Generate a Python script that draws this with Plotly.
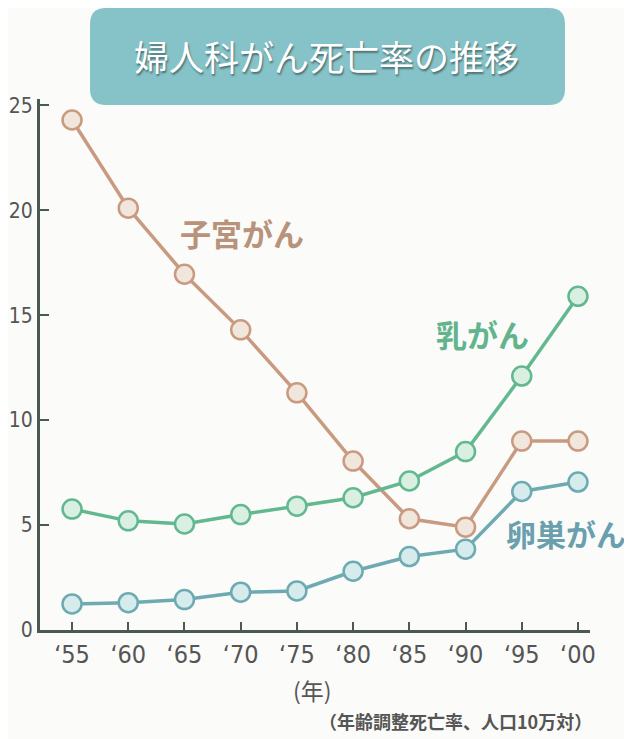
import plotly.graph_objects as go

years = [1955, 1960, 1965, 1970, 1975, 1980, 1985, 1990, 1995, 2000]
tick_labels = ["‘55", "‘60", "‘65", "‘70", "‘75", "‘80", "‘85", "‘90", "‘95", "‘00"]
uterine = [24.3, 20.1, 16.95, 14.3, 11.3, 8.05, 5.3, 4.9, 9.0, 9.0]
breast = [5.76, 5.2, 5.05, 5.5, 5.9, 6.3, 7.1, 8.5, 12.1, 15.9]
ovarian = [1.24, 1.3, 1.45, 1.8, 1.86, 2.8, 3.5, 3.85, 6.6, 7.05]

series = [
    ("子宮がん", uterine, "#c99a80", "#f1e6dc"),
    ("乳がん", breast, "#62b88f", "#d8efe2"),
    ("卵巣がん", ovarian, "#6eaab2", "#d6ebec"),
]

fig = go.Figure()
for name, vals, col, fill in series:
    fig.add_trace(go.Scatter(
        x=years, y=vals, mode="lines+markers", name=name,
        line=dict(color=col, width=3.5),
        marker=dict(size=19, color=fill, line=dict(color=col, width=2.5)),
        showlegend=False, hoverinfo="skip",
    ))

W, H = 632, 739
OFF = 8  # page body margin
# plot area in screen pixels
SL, SR, ST, SB = 40, 590, 99, 630
L, T = SL - OFF, ST - OFF
R = W - (SR - OFF)
B = H - (SB - OFF)
pw, ph = SR - SL, SB - ST

def px(xs):
    return (xs - SL) / pw

def py(ys):
    return (SB - ys) / ph

# rounded title box
x0, x1, y0, y1 = 90, 565, 8, 105
r = 16
p = (f"M {px(x0+r)},{py(y0)} L {px(x1-r)},{py(y0)} Q {px(x1)},{py(y0)} {px(x1)},{py(y0+r)} "
     f"L {px(x1)},{py(y1-r)} Q {px(x1)},{py(y1)} {px(x1-r)},{py(y1)} "
     f"L {px(x0+r)},{py(y1)} Q {px(x0)},{py(y1)} {px(x0)},{py(y1-r)} "
     f"L {px(x0)},{py(y0+r)} Q {px(x0)},{py(y0)} {px(x0+r)},{py(y0)} Z")
fig.add_shape(type="path", path=p, xref="paper", yref="paper",
              fillcolor="#86c3c8", line=dict(width=0), layer="below")

font_jp = "Noto Sans CJK JP"
fig.add_annotation(x=px(326), y=py(55), xref="paper", yref="paper",
                   text="婦人科がん死亡率の推移", showarrow=False,
                   font=dict(family=font_jp, size=35, color="white", shadow="1px 2px 2px #4a6f72"),
                   xanchor="center", yanchor="middle")

fig.add_annotation(x=px(242), y=py(233), xref="paper", yref="paper",
                   text="<b>子宮がん</b>", showarrow=False,
                   font=dict(family=font_jp, size=31, color="#b9927c"),
                   xanchor="center", yanchor="middle")
fig.add_annotation(x=px(482), y=py(333), xref="paper", yref="paper",
                   text="<b>乳がん</b>", showarrow=False,
                   font=dict(family=font_jp, size=31, color="#62b48d"),
                   xanchor="center", yanchor="middle")
fig.add_annotation(x=px(628), y=py(533), xref="paper", yref="paper",
                   text="<b>卵巣がん</b>", showarrow=False,
                   font=dict(family=font_jp, size=30, color="#6a9fae"),
                   xanchor="right", yanchor="middle")

fig.add_annotation(x=px(312), y=py(690), xref="paper", yref="paper",
                   text="(年)", showarrow=False,
                   font=dict(family=font_jp, size=23, color="#555555"),
                   xanchor="center", yanchor="middle")
fig.add_annotation(x=px(594), y=py(721), xref="paper", yref="paper",
                   text="<b>（年齢調整死亡率、人口10万対）</b>", showarrow=False,
                   font=dict(family=font_jp, size=18, color="#555555"),
                   xanchor="right", yanchor="middle")

axcol = "#4b5a50"
narrow = "Liberation Sans Narrow, DejaVu Sans Condensed, Liberation Sans"
fig.update_xaxes(range=[1952.15, 2001.07], tickvals=years, ticktext=tick_labels,
                 automargin=False,
                 showgrid=False, zeroline=False, showline=True, linecolor=axcol, linewidth=3,
                 ticks="inside", ticklen=8, tickwidth=2, tickcolor=axcol,
                 tickfont=dict(family=narrow, size=25, color="#555555"))
fig.update_yaxes(range=[0, 25.3], tickvals=[0, 5, 10, 15, 20, 25],
                 automargin=False,
                 showgrid=False, zeroline=False, showline=True, linecolor=axcol, linewidth=3,
                 ticks="inside", ticklen=9, tickwidth=2, tickcolor=axcol,
                 tickfont=dict(family=narrow, size=21, color="#555555"))

fig.update_layout(width=W, height=H, margin=dict(l=L, r=R, t=T, b=B),
                  paper_bgcolor="#fbfbf9", plot_bgcolor="#fbfbf9")
fig.write_html("out.html")
